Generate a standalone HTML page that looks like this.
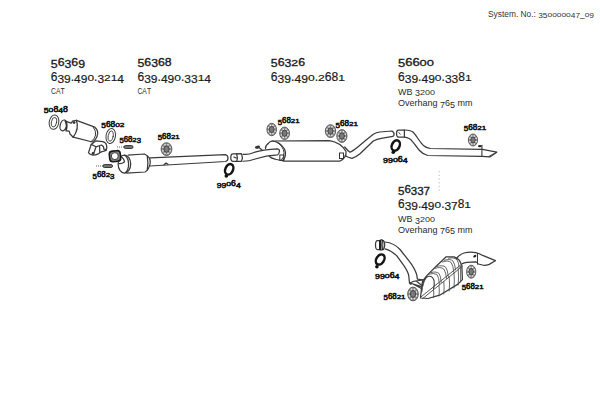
<!DOCTYPE html>
<html><head><meta charset="utf-8">
<style>
html,body{margin:0;padding:0;background:#fff;width:600px;height:400px;overflow:hidden}
svg{display:block}
text{font-family:"Liberation Sans",sans-serif;fill:#1a1a1a}
.l{stroke:#111;stroke-width:0.6}
.s{fill:#2a2a2a}
.sys{font-size:8.5px;fill:#333}
.b{font-weight:normal;font-size:12px;stroke:#1a1a1a;stroke-width:0.35}
.r{font-size:12px;stroke:#1a1a1a;stroke-width:0.2}
.s{font-size:9.5px}
.l{font-size:8.6px}
.p{fill:none;stroke:#3a3a3a;stroke-width:1.25;stroke-linejoin:round;stroke-linecap:round}
.f{fill:#fff;stroke:#3a3a3a;stroke-width:1.25;stroke-linejoin:round}
.d{fill:#333}
.clp ellipse{fill:none;stroke:#151515;stroke-width:2.5}
</style></head><body>
<svg width="600" height="400" viewBox="0 0 600 400">
<!-- header -->
<text class="sys" style="font-size:8.3px" transform="matrix(1.0076,0,0,1.000,488.00,16.70)">S</text>
<text class="sys" style="font-size:8.3px" transform="matrix(1.0076,0,0,1.000,493.58,16.70)">y</text>
<text class="sys" style="font-size:8.3px" transform="matrix(1.0076,0,0,1.000,497.76,16.70)">s</text>
<text class="sys" style="font-size:8.3px" transform="matrix(1.0076,0,0,1.000,501.94,16.70)">t</text>
<text class="sys" style="font-size:8.3px" transform="matrix(1.0076,0,0,1.000,504.26,16.70)">e</text>
<text class="sys" style="font-size:8.3px" transform="matrix(1.0076,0,0,1.000,508.91,16.70)">m</text>
<text class="sys" style="font-size:8.3px" transform="matrix(1.0076,0,0,1.000,515.88,16.70)">.</text>
<text class="sys" style="font-size:8.3px" transform="matrix(1.0076,0,0,1.000,520.53,16.70)">N</text>
<text class="sys" style="font-size:8.3px" transform="matrix(1.0076,0,0,1.000,526.57,16.70)">o</text>
<text class="sys" style="font-size:8.3px" transform="matrix(1.0076,0,0,1.000,531.22,16.70)">.</text>
<text class="sys" style="font-size:8.3px" transform="matrix(1.0076,0,0,1.000,533.54,16.70)">:</text>
<text class="sys" style="font-size:8.3px" transform="matrix(1.0076,0,0,0.950,538.19,18.07)">3</text>
<text class="sys" style="font-size:8.3px" transform="matrix(1.0076,0,0,0.950,542.84,18.07)">5</text>
<text class="sys" style="font-size:8.3px" transform="matrix(1.0076,0,0,0.720,547.49,16.70)">0</text>
<text class="sys" style="font-size:8.3px" transform="matrix(1.0076,0,0,0.720,552.14,16.70)">0</text>
<text class="sys" style="font-size:8.3px" transform="matrix(1.0076,0,0,0.720,556.79,16.70)">0</text>
<text class="sys" style="font-size:8.3px" transform="matrix(1.0076,0,0,0.720,561.44,16.70)">0</text>
<text class="sys" style="font-size:8.3px" transform="matrix(1.0076,0,0,0.720,566.09,16.70)">0</text>
<text class="sys" style="font-size:8.3px" transform="matrix(1.0076,0,0,0.950,570.75,18.07)">4</text>
<text class="sys" style="font-size:8.3px" transform="matrix(1.0076,0,0,0.950,575.40,18.07)">7</text>
<text class="sys" style="font-size:8.3px" transform="matrix(1.0076,0,0,1.000,580.05,16.70)">_</text>
<text class="sys" style="font-size:8.3px" transform="matrix(1.0076,0,0,0.720,584.70,16.70)">0</text>
<text class="sys" style="font-size:8.3px" transform="matrix(1.0076,0,0,0.950,589.35,18.07)">9</text>
<text class="b" style="font-size:11.4px" transform="matrix(1.0788,0,0,0.950,50.80,67.69)">5</text>
<text class="b" style="font-size:11.4px" transform="matrix(1.0788,0,0,1.000,57.64,65.80)">6</text>
<text class="b" style="font-size:11.4px" transform="matrix(1.0788,0,0,0.950,64.48,67.69)">3</text>
<text class="b" style="font-size:11.4px" transform="matrix(1.0788,0,0,1.000,71.32,65.80)">6</text>
<text class="b" style="font-size:11.4px" transform="matrix(1.0788,0,0,0.950,78.16,67.69)">9</text>
<text class="r" style="font-size:12.2px" transform="matrix(0.9808,0,0,1.000,50.80,80.60)">6</text>
<text class="r" style="font-size:12.2px" transform="matrix(0.9808,0,0,0.950,57.46,82.62)">3</text>
<text class="r" style="font-size:12.2px" transform="matrix(0.9808,0,0,0.950,64.11,82.62)">9</text>
<text class="r" style="font-size:12.2px" transform="matrix(0.9808,0,0,1.000,70.77,80.60)">.</text>
<text class="r" style="font-size:12.2px" transform="matrix(0.9808,0,0,0.950,74.09,82.62)">4</text>
<text class="r" style="font-size:12.2px" transform="matrix(0.9808,0,0,0.950,80.74,82.62)">9</text>
<text class="r" style="font-size:12.2px" transform="matrix(0.9808,0,0,0.720,87.40,80.60)">0</text>
<text class="r" style="font-size:12.2px" transform="matrix(0.9808,0,0,1.000,94.06,80.60)">.</text>
<text class="r" style="font-size:12.2px" transform="matrix(0.9808,0,0,0.950,97.38,82.62)">3</text>
<text class="r" style="font-size:12.2px" transform="matrix(0.9808,0,0,0.720,104.03,80.60)">2</text>
<text class="r" style="font-size:12.2px" transform="matrix(0.9808,0,0,0.720,110.69,80.60)">1</text>
<text class="r" style="font-size:12.2px" transform="matrix(0.9808,0,0,0.950,117.34,82.62)">4</text>
<text class="s" style="font-size:9.5px" transform="matrix(0.7210,0,0,1.000,51.00,94.00)">C</text>
<text class="s" style="font-size:9.5px" transform="matrix(0.7210,0,0,1.000,55.95,94.00)">A</text>
<text class="s" style="font-size:9.5px" transform="matrix(0.7210,0,0,1.000,60.52,94.00)">T</text>
<text class="b" style="font-size:11.4px" transform="matrix(1.0788,0,0,0.950,137.50,67.49)">5</text>
<text class="b" style="font-size:11.4px" transform="matrix(1.0788,0,0,1.000,144.34,65.60)">6</text>
<text class="b" style="font-size:11.4px" transform="matrix(1.0788,0,0,0.950,151.18,67.49)">3</text>
<text class="b" style="font-size:11.4px" transform="matrix(1.0788,0,0,1.000,158.02,65.60)">6</text>
<text class="b" style="font-size:11.4px" transform="matrix(1.0788,0,0,1.000,164.86,65.60)">8</text>
<text class="r" style="font-size:12.2px" transform="matrix(0.9849,0,0,1.000,137.50,80.60)">6</text>
<text class="r" style="font-size:12.2px" transform="matrix(0.9849,0,0,0.950,144.18,82.62)">3</text>
<text class="r" style="font-size:12.2px" transform="matrix(0.9849,0,0,0.950,150.86,82.62)">9</text>
<text class="r" style="font-size:12.2px" transform="matrix(0.9849,0,0,1.000,157.55,80.60)">.</text>
<text class="r" style="font-size:12.2px" transform="matrix(0.9849,0,0,0.950,160.89,82.62)">4</text>
<text class="r" style="font-size:12.2px" transform="matrix(0.9849,0,0,0.950,167.57,82.62)">9</text>
<text class="r" style="font-size:12.2px" transform="matrix(0.9849,0,0,0.720,174.25,80.60)">0</text>
<text class="r" style="font-size:12.2px" transform="matrix(0.9849,0,0,1.000,180.93,80.60)">.</text>
<text class="r" style="font-size:12.2px" transform="matrix(0.9849,0,0,0.950,184.27,82.62)">3</text>
<text class="r" style="font-size:12.2px" transform="matrix(0.9849,0,0,0.950,190.95,82.62)">3</text>
<text class="r" style="font-size:12.2px" transform="matrix(0.9849,0,0,0.720,197.64,80.60)">1</text>
<text class="r" style="font-size:12.2px" transform="matrix(0.9849,0,0,0.950,204.32,82.62)">4</text>
<text class="s" style="font-size:9.5px" transform="matrix(0.7105,0,0,1.000,137.50,94.30)">C</text>
<text class="s" style="font-size:9.5px" transform="matrix(0.7105,0,0,1.000,142.37,94.30)">A</text>
<text class="s" style="font-size:9.5px" transform="matrix(0.7105,0,0,1.000,146.88,94.30)">T</text>
<text class="b" style="font-size:11.4px" transform="matrix(1.0788,0,0,0.950,270.80,67.49)">5</text>
<text class="b" style="font-size:11.4px" transform="matrix(1.0788,0,0,1.000,277.64,65.60)">6</text>
<text class="b" style="font-size:11.4px" transform="matrix(1.0788,0,0,0.950,284.48,67.49)">3</text>
<text class="b" style="font-size:11.4px" transform="matrix(1.0788,0,0,0.720,291.32,65.60)">2</text>
<text class="b" style="font-size:11.4px" transform="matrix(1.0788,0,0,1.000,298.16,65.60)">6</text>
<text class="r" style="font-size:12.2px" transform="matrix(0.9942,0,0,1.000,270.80,80.90)">6</text>
<text class="r" style="font-size:12.2px" transform="matrix(0.9942,0,0,0.950,277.55,82.92)">3</text>
<text class="r" style="font-size:12.2px" transform="matrix(0.9942,0,0,0.950,284.29,82.92)">9</text>
<text class="r" style="font-size:12.2px" transform="matrix(0.9942,0,0,1.000,291.04,80.90)">.</text>
<text class="r" style="font-size:12.2px" transform="matrix(0.9942,0,0,0.950,294.41,82.92)">4</text>
<text class="r" style="font-size:12.2px" transform="matrix(0.9942,0,0,0.950,301.15,82.92)">9</text>
<text class="r" style="font-size:12.2px" transform="matrix(0.9942,0,0,0.720,307.90,80.90)">0</text>
<text class="r" style="font-size:12.2px" transform="matrix(0.9942,0,0,1.000,314.65,80.90)">.</text>
<text class="r" style="font-size:12.2px" transform="matrix(0.9942,0,0,0.720,318.02,80.90)">2</text>
<text class="r" style="font-size:12.2px" transform="matrix(0.9942,0,0,1.000,324.76,80.90)">6</text>
<text class="r" style="font-size:12.2px" transform="matrix(0.9942,0,0,1.000,331.51,80.90)">8</text>
<text class="r" style="font-size:12.2px" transform="matrix(0.9942,0,0,0.720,338.25,80.90)">1</text>
<text class="b" style="font-size:11.4px" transform="matrix(1.1356,0,0,0.950,398.00,67.49)">5</text>
<text class="b" style="font-size:11.4px" transform="matrix(1.1356,0,0,1.000,405.20,65.60)">6</text>
<text class="b" style="font-size:11.4px" transform="matrix(1.1356,0,0,1.000,412.40,65.60)">6</text>
<text class="b" style="font-size:11.4px" transform="matrix(1.1356,0,0,0.720,419.60,65.60)">0</text>
<text class="b" style="font-size:11.4px" transform="matrix(1.1356,0,0,0.720,426.80,65.60)">0</text>
<text class="r" style="font-size:12.2px" transform="matrix(0.9875,0,0,1.000,398.00,80.60)">6</text>
<text class="r" style="font-size:12.2px" transform="matrix(0.9875,0,0,0.950,404.70,82.62)">3</text>
<text class="r" style="font-size:12.2px" transform="matrix(0.9875,0,0,0.950,411.40,82.62)">9</text>
<text class="r" style="font-size:12.2px" transform="matrix(0.9875,0,0,1.000,418.10,80.60)">.</text>
<text class="r" style="font-size:12.2px" transform="matrix(0.9875,0,0,0.950,421.45,82.62)">4</text>
<text class="r" style="font-size:12.2px" transform="matrix(0.9875,0,0,0.950,428.15,82.62)">9</text>
<text class="r" style="font-size:12.2px" transform="matrix(0.9875,0,0,0.720,434.85,80.60)">0</text>
<text class="r" style="font-size:12.2px" transform="matrix(0.9875,0,0,1.000,441.55,80.60)">.</text>
<text class="r" style="font-size:12.2px" transform="matrix(0.9875,0,0,0.950,444.90,82.62)">3</text>
<text class="r" style="font-size:12.2px" transform="matrix(0.9875,0,0,0.950,451.60,82.62)">3</text>
<text class="r" style="font-size:12.2px" transform="matrix(0.9875,0,0,1.000,458.30,80.60)">8</text>
<text class="r" style="font-size:12.2px" transform="matrix(0.9875,0,0,0.720,465.00,80.60)">1</text>
<text class="s" style="font-size:9px" transform="matrix(0.9995,0,0,1.000,398.00,94.80)">W</text>
<text class="s" style="font-size:9px" transform="matrix(0.9995,0,0,1.000,406.49,94.80)">B</text>
<text class="s" style="font-size:9px" transform="matrix(0.9995,0,0,0.950,414.99,96.29)">3</text>
<text class="s" style="font-size:9px" transform="matrix(0.9995,0,0,0.720,419.99,94.80)">2</text>
<text class="s" style="font-size:9px" transform="matrix(0.9995,0,0,0.720,424.99,94.80)">0</text>
<text class="s" style="font-size:9px" transform="matrix(0.9995,0,0,0.720,430.00,94.80)">0</text>
<text class="s" style="font-size:9.5px" transform="matrix(0.9469,0,0,1.000,398.00,106.20)">O</text>
<text class="s" style="font-size:9.5px" transform="matrix(0.9469,0,0,1.000,405.00,106.20)">v</text>
<text class="s" style="font-size:9.5px" transform="matrix(0.9469,0,0,1.000,409.49,106.20)">e</text>
<text class="s" style="font-size:9.5px" transform="matrix(0.9469,0,0,1.000,414.50,106.20)">r</text>
<text class="s" style="font-size:9.5px" transform="matrix(0.9469,0,0,1.000,417.49,106.20)">h</text>
<text class="s" style="font-size:9.5px" transform="matrix(0.9469,0,0,1.000,422.50,106.20)">a</text>
<text class="s" style="font-size:9.5px" transform="matrix(0.9469,0,0,1.000,427.50,106.20)">n</text>
<text class="s" style="font-size:9.5px" transform="matrix(0.9469,0,0,1.000,432.50,106.20)">g</text>
<text class="s" style="font-size:9.5px" transform="matrix(0.9469,0,0,0.950,440.00,107.77)">7</text>
<text class="s" style="font-size:9.5px" transform="matrix(0.9469,0,0,1.000,445.01,106.20)">6</text>
<text class="s" style="font-size:9.5px" transform="matrix(0.9469,0,0,0.950,450.01,107.77)">5</text>
<text class="s" style="font-size:9.5px" transform="matrix(0.9469,0,0,1.000,457.51,106.20)">m</text>
<text class="s" style="font-size:9.5px" transform="matrix(0.9469,0,0,1.000,465.01,106.20)">m</text>
<text class="b" style="font-size:11.2px" transform="matrix(1.0275,0,0,0.950,398.00,195.25)">5</text>
<text class="b" style="font-size:11.2px" transform="matrix(1.0275,0,0,1.000,404.40,193.40)">6</text>
<text class="b" style="font-size:11.2px" transform="matrix(1.0275,0,0,0.950,410.80,195.25)">3</text>
<text class="b" style="font-size:11.2px" transform="matrix(1.0275,0,0,0.950,417.20,195.25)">3</text>
<text class="b" style="font-size:11.2px" transform="matrix(1.0275,0,0,0.950,423.60,195.25)">7</text>
<text class="r" style="font-size:12.0px" transform="matrix(0.9945,0,0,1.000,398.00,207.80)">6</text>
<text class="r" style="font-size:12.0px" transform="matrix(0.9945,0,0,0.950,404.64,209.79)">3</text>
<text class="r" style="font-size:12.0px" transform="matrix(0.9945,0,0,0.950,411.27,209.79)">9</text>
<text class="r" style="font-size:12.0px" transform="matrix(0.9945,0,0,1.000,417.91,207.80)">.</text>
<text class="r" style="font-size:12.0px" transform="matrix(0.9945,0,0,0.950,421.23,209.79)">4</text>
<text class="r" style="font-size:12.0px" transform="matrix(0.9945,0,0,0.950,427.86,209.79)">9</text>
<text class="r" style="font-size:12.0px" transform="matrix(0.9945,0,0,0.720,434.50,207.80)">0</text>
<text class="r" style="font-size:12.0px" transform="matrix(0.9945,0,0,1.000,441.14,207.80)">.</text>
<text class="r" style="font-size:12.0px" transform="matrix(0.9945,0,0,0.950,444.45,209.79)">3</text>
<text class="r" style="font-size:12.0px" transform="matrix(0.9945,0,0,0.950,451.09,209.79)">7</text>
<text class="r" style="font-size:12.0px" transform="matrix(0.9945,0,0,1.000,457.73,207.80)">8</text>
<text class="r" style="font-size:12.0px" transform="matrix(0.9945,0,0,0.720,464.36,207.80)">1</text>
<text class="s" style="font-size:9px" transform="matrix(0.9995,0,0,1.000,398.00,222.30)">W</text>
<text class="s" style="font-size:9px" transform="matrix(0.9995,0,0,1.000,406.49,222.30)">B</text>
<text class="s" style="font-size:9px" transform="matrix(0.9995,0,0,0.950,414.99,223.79)">3</text>
<text class="s" style="font-size:9px" transform="matrix(0.9995,0,0,0.720,419.99,222.30)">2</text>
<text class="s" style="font-size:9px" transform="matrix(0.9995,0,0,0.720,424.99,222.30)">0</text>
<text class="s" style="font-size:9px" transform="matrix(0.9995,0,0,0.720,430.00,222.30)">0</text>
<text class="s" style="font-size:9.5px" transform="matrix(0.9469,0,0,1.000,398.00,232.80)">O</text>
<text class="s" style="font-size:9.5px" transform="matrix(0.9469,0,0,1.000,405.00,232.80)">v</text>
<text class="s" style="font-size:9.5px" transform="matrix(0.9469,0,0,1.000,409.49,232.80)">e</text>
<text class="s" style="font-size:9.5px" transform="matrix(0.9469,0,0,1.000,414.50,232.80)">r</text>
<text class="s" style="font-size:9.5px" transform="matrix(0.9469,0,0,1.000,417.49,232.80)">h</text>
<text class="s" style="font-size:9.5px" transform="matrix(0.9469,0,0,1.000,422.50,232.80)">a</text>
<text class="s" style="font-size:9.5px" transform="matrix(0.9469,0,0,1.000,427.50,232.80)">n</text>
<text class="s" style="font-size:9.5px" transform="matrix(0.9469,0,0,1.000,432.50,232.80)">g</text>
<text class="s" style="font-size:9.5px" transform="matrix(0.9469,0,0,0.950,440.00,234.37)">7</text>
<text class="s" style="font-size:9.5px" transform="matrix(0.9469,0,0,1.000,445.01,232.80)">6</text>
<text class="s" style="font-size:9.5px" transform="matrix(0.9469,0,0,0.950,450.01,234.37)">5</text>
<text class="s" style="font-size:9.5px" transform="matrix(0.9469,0,0,1.000,457.51,232.80)">m</text>
<text class="s" style="font-size:9.5px" transform="matrix(0.9469,0,0,1.000,465.01,232.80)">m</text>
<text class="l" style="font-size:8.3px" transform="matrix(1.0485,0,0,0.950,43.75,113.27)">5</text>
<text class="l" style="font-size:8.3px" transform="matrix(1.0485,0,0,0.720,48.59,111.90)">0</text>
<text class="l" style="font-size:8.3px" transform="matrix(1.0485,0,0,1.000,53.43,111.90)">8</text>
<text class="l" style="font-size:8.3px" transform="matrix(1.0485,0,0,0.950,58.27,113.27)">4</text>
<text class="l" style="font-size:8.3px" transform="matrix(1.0485,0,0,1.000,63.11,111.90)">8</text>
<text class="l" style="font-size:8.3px" transform="matrix(1.0052,0,0,0.950,101.25,127.87)">5</text>
<text class="l" style="font-size:8.3px" transform="matrix(1.0052,0,0,1.000,105.89,126.50)">6</text>
<text class="l" style="font-size:8.3px" transform="matrix(1.0052,0,0,1.000,110.53,126.50)">8</text>
<text class="l" style="font-size:8.3px" transform="matrix(1.0052,0,0,0.720,115.17,126.50)">0</text>
<text class="l" style="font-size:8.3px" transform="matrix(1.0052,0,0,0.720,119.81,126.50)">2</text>
<text class="l" style="font-size:8.3px" transform="matrix(0.9359,0,0,0.950,119.40,142.87)">5</text>
<text class="l" style="font-size:8.3px" transform="matrix(0.9359,0,0,1.000,123.72,141.50)">6</text>
<text class="l" style="font-size:8.3px" transform="matrix(0.9359,0,0,1.000,128.04,141.50)">8</text>
<text class="l" style="font-size:8.3px" transform="matrix(0.9359,0,0,0.720,132.36,141.50)">2</text>
<text class="l" style="font-size:8.3px" transform="matrix(0.9359,0,0,0.950,136.68,142.87)">3</text>
<text class="l" style="font-size:8.3px" transform="matrix(0.9489,0,0,0.950,92.50,178.62)">5</text>
<text class="l" style="font-size:8.3px" transform="matrix(0.9489,0,0,1.000,96.88,177.25)">6</text>
<text class="l" style="font-size:8.3px" transform="matrix(0.9489,0,0,1.000,101.26,177.25)">8</text>
<text class="l" style="font-size:8.3px" transform="matrix(0.9489,0,0,0.720,105.64,177.25)">2</text>
<text class="l" style="font-size:8.3px" transform="matrix(0.9489,0,0,0.950,110.02,178.62)">3</text>
<text class="l" style="font-size:8.3px" transform="matrix(0.9532,0,0,0.950,157.70,140.32)">5</text>
<text class="l" style="font-size:8.3px" transform="matrix(0.9532,0,0,1.000,162.10,138.95)">6</text>
<text class="l" style="font-size:8.3px" transform="matrix(0.9532,0,0,1.000,166.50,138.95)">8</text>
<text class="l" style="font-size:8.3px" transform="matrix(0.9532,0,0,0.720,170.90,138.95)">2</text>
<text class="l" style="font-size:8.3px" transform="matrix(0.9532,0,0,0.720,175.30,138.95)">1</text>
<text class="l" style="font-size:8.3px" transform="matrix(1.0398,0,0,0.950,216.70,187.72)">9</text>
<text class="l" style="font-size:8.3px" transform="matrix(1.0398,0,0,0.950,221.50,187.72)">9</text>
<text class="l" style="font-size:8.3px" transform="matrix(1.0398,0,0,0.720,226.30,186.35)">0</text>
<text class="l" style="font-size:8.3px" transform="matrix(1.0398,0,0,1.000,231.10,186.35)">6</text>
<text class="l" style="font-size:8.3px" transform="matrix(1.0398,0,0,0.950,235.90,187.72)">4</text>
<text class="l" style="font-size:8.3px" transform="matrix(0.9445,0,0,0.950,277.70,124.77)">5</text>
<text class="l" style="font-size:8.3px" transform="matrix(0.9445,0,0,1.000,282.06,123.40)">6</text>
<text class="l" style="font-size:8.3px" transform="matrix(0.9445,0,0,1.000,286.42,123.40)">8</text>
<text class="l" style="font-size:8.3px" transform="matrix(0.9445,0,0,0.720,290.78,123.40)">2</text>
<text class="l" style="font-size:8.3px" transform="matrix(0.9445,0,0,0.720,295.14,123.40)">1</text>
<text class="l" style="font-size:8.3px" transform="matrix(0.9748,0,0,0.950,335.50,127.72)">5</text>
<text class="l" style="font-size:8.3px" transform="matrix(0.9748,0,0,1.000,340.00,126.35)">6</text>
<text class="l" style="font-size:8.3px" transform="matrix(0.9748,0,0,1.000,344.50,126.35)">8</text>
<text class="l" style="font-size:8.3px" transform="matrix(0.9748,0,0,0.720,349.00,126.35)">2</text>
<text class="l" style="font-size:8.3px" transform="matrix(0.9748,0,0,0.720,353.50,126.35)">1</text>
<text class="l" style="font-size:8.3px" transform="matrix(1.0702,0,0,0.950,383.00,163.32)">9</text>
<text class="l" style="font-size:8.3px" transform="matrix(1.0702,0,0,0.950,387.94,163.32)">9</text>
<text class="l" style="font-size:8.3px" transform="matrix(1.0702,0,0,0.720,392.88,161.95)">0</text>
<text class="l" style="font-size:8.3px" transform="matrix(1.0702,0,0,1.000,397.82,161.95)">6</text>
<text class="l" style="font-size:8.3px" transform="matrix(1.0702,0,0,0.950,402.76,163.32)">4</text>
<text class="l" style="font-size:8.3px" transform="matrix(0.9748,0,0,0.950,463.75,131.07)">5</text>
<text class="l" style="font-size:8.3px" transform="matrix(0.9748,0,0,1.000,468.25,129.70)">6</text>
<text class="l" style="font-size:8.3px" transform="matrix(0.9748,0,0,1.000,472.75,129.70)">8</text>
<text class="l" style="font-size:8.3px" transform="matrix(0.9748,0,0,0.720,477.25,129.70)">2</text>
<text class="l" style="font-size:8.3px" transform="matrix(0.9748,0,0,0.720,481.75,129.70)">1</text>
<text class="l" style="font-size:8.3px" transform="matrix(1.0615,0,0,0.950,375.00,279.12)">9</text>
<text class="l" style="font-size:8.3px" transform="matrix(1.0615,0,0,0.950,379.90,279.12)">9</text>
<text class="l" style="font-size:8.3px" transform="matrix(1.0615,0,0,0.720,384.80,277.75)">0</text>
<text class="l" style="font-size:8.3px" transform="matrix(1.0615,0,0,1.000,389.70,277.75)">6</text>
<text class="l" style="font-size:8.3px" transform="matrix(1.0615,0,0,0.950,394.60,279.12)">4</text>
<text class="l" style="font-size:8.3px" transform="matrix(0.9532,0,0,0.950,383.50,300.12)">5</text>
<text class="l" style="font-size:8.3px" transform="matrix(0.9532,0,0,1.000,387.90,298.75)">6</text>
<text class="l" style="font-size:8.3px" transform="matrix(0.9532,0,0,1.000,392.30,298.75)">8</text>
<text class="l" style="font-size:8.3px" transform="matrix(0.9532,0,0,0.720,396.70,298.75)">2</text>
<text class="l" style="font-size:8.3px" transform="matrix(0.9532,0,0,0.720,401.10,298.75)">1</text>
<text class="l" style="font-size:8.3px" transform="matrix(0.9445,0,0,0.950,461.70,290.17)">5</text>
<text class="l" style="font-size:8.3px" transform="matrix(0.9445,0,0,1.000,466.06,288.80)">6</text>
<text class="l" style="font-size:8.3px" transform="matrix(0.9445,0,0,1.000,470.42,288.80)">8</text>
<text class="l" style="font-size:8.3px" transform="matrix(0.9445,0,0,0.720,474.78,288.80)">2</text>
<text class="l" style="font-size:8.3px" transform="matrix(0.9445,0,0,0.720,479.14,288.80)">1</text>
<!-- DRAWINGS -->
<g id="draw">
<!-- ring 50848 -->
<g transform="rotate(10 54 122.2)">
<ellipse class="p" cx="54" cy="122.2" rx="4.8" ry="7.2" style="stroke-width:1"/>
<ellipse class="p" cx="54" cy="122.2" rx="2.6" ry="4.8" style="stroke-width:0.9"/>
</g>
<!-- converter 1 -->
<ellipse class="f" cx="63.4" cy="125.4" rx="3.2" ry="5.5" transform="rotate(15 63.4 125.4)"/>
<path d="M65.2,120.8 Q67.8,125.5 65.9,130.6" fill="none" stroke="#333" stroke-width="1.7"/>
<path class="p" d="M66.8,121.6 L71.2,123.2 L72.4,121.2 L76.4,120.4 M66,130.8 L69.2,131.2 L70,134 L73.2,137.2"/>
<path class="p" d="M76.4,120.4 L94.8,127.2 Q98.3,130.5 97.6,134 Q97,139 92.4,142 L73.2,137.2"/>
<path class="p" d="M76.4,120.4 Q79.5,128 73.2,137.2"/>
<path class="p" d="M93.4,127.4 Q96.3,131.2 95.6,135 Q95,139 91,141.7" style="stroke-width:1"/>
<circle class="d" cx="74" cy="122.6" r="1.4"/>
<!-- elbow -->
<path class="f" d="M88.5,152.8 L91.2,144.4 L96,140.8 L102.6,141.7 Q106,142.5 106.5,145 L106.8,148 Q106.5,151 102,151.6 L99.6,152.8 Q98,154.6 93,155.2 Q89.5,154.5 88.5,152.8 Z"/>
<path class="p" d="M91.2,144.4 L96,146.8 L101.4,145 Q104,146 104,149.5 M96,146.8 L93.6,154 M99.6,146 L99.8,152.6"/>
<circle class="d" cx="93" cy="153.4" r="1.3"/>
<circle class="d" cx="105.6" cy="150" r="1.2"/>
<!-- ring 56802 -->
<g transform="rotate(10 110.75 136)">
<ellipse class="p" cx="110.75" cy="136" rx="4.7" ry="7.5" style="stroke-width:1"/>
<ellipse class="p" cx="110.75" cy="136" rx="2.5" ry="5.2" style="stroke-width:0.9"/>
</g>
<!-- bolt upper -->
<path d="M117,147 L124,147" stroke="#b0b0b0" stroke-width="2.2" stroke-dasharray="1,1"/>
<rect x="124" y="145.6" width="9" height="2.9" rx="1.4" fill="#777" stroke="#2a2a2a" stroke-width="0.9"/>
<!-- bolt lower -->
<path d="M96,166 L103,166" stroke="#b0b0b0" stroke-width="2.2" stroke-dasharray="1,1"/>
<rect x="103" y="164.6" width="9.5" height="2.9" rx="1.4" fill="#777" stroke="#2a2a2a" stroke-width="0.9"/>
<!-- converter 2 -->
<path class="f" d="M127.7,155.1 L144.3,154 Q151,157 150.2,163 Q149,170 145,172 L126.3,173.1"/>
<ellipse class="f" cx="124.4" cy="164" rx="6.3" ry="9"/>
<path class="p" d="M124.8,155.2 Q128.6,158 128.6,164 Q128.6,170.5 125.2,172.8"/>
<path class="p" d="M120.2,155.8 Q124.5,159 124.4,162 Q122,164 118.8,163.6"/>
<path class="p" d="M147.3,156.3 Q148.5,163 147.3,169.8"/>
<!-- gasket 56823 -->
<rect x="109.5" y="150.9" width="11" height="10.6" rx="3.2" fill="#888" stroke="#1a1a1a" stroke-width="1.6" transform="rotate(-6 115 156.2)"/>
<circle cx="114.8" cy="156.1" r="3.5" fill="#fff" stroke="#2a2a2a" stroke-width="0.9"/>
<!-- pipe 1 -->
<path class="p" d="M150.2,157.8 L225.5,154.6 Q228,155.5 228,158 Q228,160.8 225.5,161.5 L150,166"/>
<path class="p" d="M164,164.7 L166,163 L168,164.3"/>
<!-- connector -->
<path class="f" d="M233,153.8 L241.5,153.7 Q243.2,157.5 241.5,161.3 L233,161.3 Q230.8,161.3 230.8,157.5 Q230.8,153.8 233,153.8 Z"/>
<path class="p" d="M236.7,154 Q238,157.5 236.7,161.2 M234,157 L236,158"/>
<!-- pipe 2 -->
<path class="p" d="M243,154.3 Q248,155 254,152.5 Q263,149.6 277.5,148.8 Q280,149.5 279.3,151.8 Q279,154.5 277.5,154.8 Q266,155.4 255.3,159 Q249,161.2 243,161.25"/>
<ellipse cx="257.5" cy="147.2" rx="2.6" ry="1.5" fill="#333" transform="rotate(-15 257.5 147.2)"/><path class="p" d="M259.5,148 L262,150"/>
<!-- muffler 1 -->
<path class="p" d="M272,141 L329.3,140.6 C337,141.8 343,146 346,151.5 C346.5,155.5 344,159 340,161 L283,161.1"/>
<path class="p" d="M268.2,143.5 Q270,141 272,141 Q280,141.5 284.5,149 Q287,155 283.3,160.3 Q278,160 276.3,159.5 Q270,158 269.3,156"/>
<path class="p" d="M268.2,143.5 Q265,146 265.5,148.5"/>
<path class="p" d="M277,142.3 Q283.5,146.5 284,152.5 Q284.3,157.5 281.5,160" style="stroke-width:1"/>
<rect x="279.8" y="155" width="4" height="5.5" fill="none" stroke="#333" stroke-width="1"/>
<rect x="339.5" y="153" width="4" height="5.5" fill="none" stroke="#333" stroke-width="1"/>
<!-- pipe 3 -->
<path class="p" d="M344.7,147 Q348,151 350,152.3 Q353,151 358.7,146.3 Q366,140 373.3,134.3 Q376,132.5 380,132 L392,131 Q394.5,132.5 394,135 Q393.5,136.5 392.7,136.3 L381.3,138.3 Q377,139 373.3,141 L360,153.7 Q356,157 352,158.3 Q348,157.5 345.3,155.7"/>
<!-- connector 2 -->
<path class="f" d="M398.5,130 L404.4,130 L404.4,137.1 L398.5,137.1 Q396.5,137 396.5,133.5 Q396.5,130 398.5,130 Z"/>
<path class="p" d="M399,132.6 L400.2,134.2" style="stroke-width:1"/>
<!-- tailpipe -->
<path class="p" d="M404.4,130 C408,130.2 411.5,130.5 413,132 C415.5,134.5 418,139 421.5,143.4 C423.5,146 426,148 430.5,148.5 L482.5,149.4 L496.8,152.2 L489.8,156.9 L482,156.4 L427.8,155.5 C424,154.5 421.5,152.8 419.5,150.5 C417,148 414.5,143.5 412.5,141.6 C411,139.5 409,137.5 404.4,137.1"/>
<path class="p" d="M481.9,145.3 L481.9,156.5" style="stroke-width:1.1"/>
<path class="p" d="M494.5,153.3 L488.5,156.6" style="stroke-width:0.9"/>
<ellipse cx="479.8" cy="146.2" rx="1.8" ry="1.1" fill="#222"/>
<!-- mounts 56821 -->
<g class="mnt">
<ellipse cx="166.5" cy="149.1" rx="5.4" ry="6.4" fill="#8e8e8e" stroke="#505050" stroke-width="0.9"/>
<ellipse cx="166.5" cy="149.1" rx="2.70" ry="3.20" fill="#7a7a7a" stroke="#333" stroke-width="0.8"/>
<circle cx="170.09" cy="150.86" r="0.8" fill="#eee"/>
<circle cx="167.99" cy="153.36" r="0.8" fill="#eee"/>
<circle cx="165.01" cy="153.36" r="0.8" fill="#eee"/>
<circle cx="162.91" cy="150.86" r="0.8" fill="#eee"/>
<circle cx="162.91" cy="147.34" r="0.8" fill="#eee"/>
<circle cx="165.01" cy="144.84" r="0.8" fill="#eee"/>
<circle cx="167.99" cy="144.84" r="0.8" fill="#eee"/>
<circle cx="170.09" cy="147.34" r="0.8" fill="#eee"/>
<ellipse cx="271.7" cy="129.5" rx="4.8" ry="6.2" fill="#8e8e8e" stroke="#505050" stroke-width="0.9"/>
<ellipse cx="271.7" cy="129.5" rx="2.40" ry="3.10" fill="#7a7a7a" stroke="#333" stroke-width="0.8"/>
<circle cx="274.89" cy="131.21" r="0.8" fill="#eee"/>
<circle cx="273.02" cy="133.62" r="0.8" fill="#eee"/>
<circle cx="270.38" cy="133.62" r="0.8" fill="#eee"/>
<circle cx="268.51" cy="131.21" r="0.8" fill="#eee"/>
<circle cx="268.51" cy="127.79" r="0.8" fill="#eee"/>
<circle cx="270.38" cy="125.38" r="0.8" fill="#eee"/>
<circle cx="273.02" cy="125.38" r="0.8" fill="#eee"/>
<circle cx="274.89" cy="127.79" r="0.8" fill="#eee"/>
<ellipse cx="284.6" cy="133.3" rx="4.9" ry="6.2" fill="#8e8e8e" stroke="#505050" stroke-width="0.9"/>
<ellipse cx="284.6" cy="133.3" rx="2.45" ry="3.10" fill="#7a7a7a" stroke="#333" stroke-width="0.8"/>
<circle cx="287.86" cy="135.01" r="0.8" fill="#eee"/>
<circle cx="285.95" cy="137.42" r="0.8" fill="#eee"/>
<circle cx="283.25" cy="137.42" r="0.8" fill="#eee"/>
<circle cx="281.34" cy="135.01" r="0.8" fill="#eee"/>
<circle cx="281.34" cy="131.59" r="0.8" fill="#eee"/>
<circle cx="283.25" cy="129.18" r="0.8" fill="#eee"/>
<circle cx="285.95" cy="129.18" r="0.8" fill="#eee"/>
<circle cx="287.86" cy="131.59" r="0.8" fill="#eee"/>
<ellipse cx="330.5" cy="131.1" rx="5.2" ry="6.4" fill="#8e8e8e" stroke="#505050" stroke-width="0.9"/>
<ellipse cx="330.5" cy="131.1" rx="2.60" ry="3.20" fill="#7a7a7a" stroke="#333" stroke-width="0.8"/>
<circle cx="333.96" cy="132.86" r="0.8" fill="#eee"/>
<circle cx="331.93" cy="135.36" r="0.8" fill="#eee"/>
<circle cx="329.07" cy="135.36" r="0.8" fill="#eee"/>
<circle cx="327.04" cy="132.86" r="0.8" fill="#eee"/>
<circle cx="327.04" cy="129.34" r="0.8" fill="#eee"/>
<circle cx="329.07" cy="126.84" r="0.8" fill="#eee"/>
<circle cx="331.93" cy="126.84" r="0.8" fill="#eee"/>
<circle cx="333.96" cy="129.34" r="0.8" fill="#eee"/>
<ellipse cx="341.9" cy="136" rx="5.1" ry="6.4" fill="#8e8e8e" stroke="#505050" stroke-width="0.9"/>
<ellipse cx="341.9" cy="136" rx="2.55" ry="3.20" fill="#7a7a7a" stroke="#333" stroke-width="0.8"/>
<circle cx="345.29" cy="137.76" r="0.8" fill="#eee"/>
<circle cx="343.31" cy="140.26" r="0.8" fill="#eee"/>
<circle cx="340.49" cy="140.26" r="0.8" fill="#eee"/>
<circle cx="338.51" cy="137.76" r="0.8" fill="#eee"/>
<circle cx="338.51" cy="134.24" r="0.8" fill="#eee"/>
<circle cx="340.49" cy="131.74" r="0.8" fill="#eee"/>
<circle cx="343.31" cy="131.74" r="0.8" fill="#eee"/>
<circle cx="345.29" cy="134.24" r="0.8" fill="#eee"/>
<ellipse cx="473" cy="140" rx="4.6" ry="6" fill="#8e8e8e" stroke="#505050" stroke-width="0.9"/>
<ellipse cx="473" cy="140" rx="2.30" ry="3.00" fill="#7a7a7a" stroke="#333" stroke-width="0.8"/>
<circle cx="476.06" cy="141.65" r="0.8" fill="#eee"/>
<circle cx="474.27" cy="143.99" r="0.8" fill="#eee"/>
<circle cx="471.73" cy="143.99" r="0.8" fill="#eee"/>
<circle cx="469.94" cy="141.65" r="0.8" fill="#eee"/>
<circle cx="469.94" cy="138.35" r="0.8" fill="#eee"/>
<circle cx="471.73" cy="136.01" r="0.8" fill="#eee"/>
<circle cx="474.27" cy="136.01" r="0.8" fill="#eee"/>
<circle cx="476.06" cy="138.35" r="0.8" fill="#eee"/>
<ellipse cx="413" cy="294" rx="5.3" ry="6.9" fill="#8e8e8e" stroke="#505050" stroke-width="0.9"/>
<ellipse cx="413" cy="294" rx="2.65" ry="3.45" fill="#7a7a7a" stroke="#333" stroke-width="0.8"/>
<circle cx="416.53" cy="295.90" r="0.8" fill="#eee"/>
<circle cx="414.46" cy="298.59" r="0.8" fill="#eee"/>
<circle cx="411.54" cy="298.59" r="0.8" fill="#eee"/>
<circle cx="409.47" cy="295.90" r="0.8" fill="#eee"/>
<circle cx="409.47" cy="292.10" r="0.8" fill="#eee"/>
<circle cx="411.54" cy="289.41" r="0.8" fill="#eee"/>
<circle cx="414.46" cy="289.41" r="0.8" fill="#eee"/>
<circle cx="416.53" cy="292.10" r="0.8" fill="#eee"/>
<ellipse cx="471.2" cy="271.7" rx="4.6" ry="6.5" fill="#8e8e8e" stroke="#505050" stroke-width="0.9"/>
<ellipse cx="471.2" cy="271.7" rx="2.30" ry="3.25" fill="#7a7a7a" stroke="#333" stroke-width="0.8"/>
<circle cx="474.26" cy="273.49" r="0.8" fill="#eee"/>
<circle cx="472.47" cy="276.02" r="0.8" fill="#eee"/>
<circle cx="469.93" cy="276.02" r="0.8" fill="#eee"/>
<circle cx="468.14" cy="273.49" r="0.8" fill="#eee"/>
<circle cx="468.14" cy="269.91" r="0.8" fill="#eee"/>
<circle cx="469.93" cy="267.38" r="0.8" fill="#eee"/>
<circle cx="472.47" cy="267.38" r="0.8" fill="#eee"/>
<circle cx="474.26" cy="269.91" r="0.8" fill="#eee"/>
</g>
<!-- clamps 99064 -->
<g class="clp">
<ellipse cx="229.2" cy="169.3" rx="3.8" ry="5.5" transform="rotate(25 229.2 169.3)"/>
<circle cx="226.3" cy="176.0" r="1.8" fill="#111"/>
<ellipse cx="395.75" cy="145.5" rx="3.8" ry="5.5" transform="rotate(25 395.75 145.5)"/>
<circle cx="393.25" cy="152.25" r="1.8" fill="#111"/>
<ellipse cx="380.2" cy="259.5" rx="3.8" ry="5.5" transform="rotate(33 380.2 259.5)"/>
<circle cx="376.9" cy="266.8" r="1.8" fill="#111"/>
</g>
<!-- dotted line -->
<path d="M439.1,171 L439.1,193" stroke="#bbb" stroke-width="1" stroke-dasharray="1.3,2.4"/>
<!-- rear pipe in -->
<path class="f" d="M377.5,240.5 L383.5,240.5 Q386,245 383.5,249.5 L377.5,249.5 Q375.5,249.5 375.5,245 Q375.5,240.5 377.5,240.5 Z"/>
<path d="M379,240.5 Q380,239.2 382,239.2 Q383.3,239.5 383.3,241 L383.3,249.5 Q382.5,250.6 380.5,250.5 Q379,250 379,249 Z" fill="#1e1e1e"/>
<path d="M381.6,240.5 Q382.6,245 381.6,249.5" stroke="#fff" stroke-width="0.7" fill="none"/>
<path class="p" d="M385,242 C390,242.5 396,245 400,249.5 L408.6,260.3 C412,264.5 415.5,270 416.8,275.2 L417.4,279.2 L424.2,280"/>
<path class="p" d="M385,248.8 C388,249.5 393,252 397.2,256.3 L403.9,265.7 C406.5,269.5 408.3,273 408.8,276 L409.5,283"/>
<circle class="d" cx="410.7" cy="283.6" r="1.2"/>
<path class="p" d="M410,283 L413.75,281.25 L423,280 M410,283 L420.6,286.3 M412.5,283.8 L421.9,288.8 M416,281 L424,287"/>
<!-- rear muffler -->
<path class="f" d="M420.5,298 L421.5,288 Q422,283 422.8,280.8 L427,275.4 L437.2,265.2 L446.2,256.8 L454,256.8 Q457.5,258 459.4,260.4 L461.8,265.2 L462.4,279.6 L457.6,284.4 L439.6,295.2 L428,298.5 Z"/>
<path class="p" d="M422.5,286 Q423.5,278 428.5,276.3 Q432.5,275.5 434,280.5 Q434.8,284 433.5,289" style="stroke-width:1.1"/>
<path class="p" d="M421.8,292 Q423,282 425.5,279" style="stroke-width:0.9"/>
<path class="p" d="M420.4,297.4 L461.8,264 M422.6,298.6 L462.2,266.4" style="stroke-width:0.9;stroke:#444"/>
<g style="stroke-width:0.85;stroke:#4a4a4a" class="p">
<path d="M428.8,274.2 Q434,272.6 437,274.5 Q439,277 439.4,284.5"/>
<path d="M431,272.6 Q436,271 439,273.5 Q441,276 441.2,282.5"/>
<path d="M435,268.4 Q440.5,266.4 443.8,269 Q446,272 446.6,278.5"/>
<path d="M437.2,266.4 Q442.5,264.6 445.8,267.3 Q447.8,270 448.3,276.5"/>
<path d="M442.4,262 Q448,259.8 451.2,262.6 Q453.2,265.5 453.8,272"/>
<path d="M444.4,260.3 Q450,258.4 453,261 Q455,264 455.6,270"/>
<path d="M448.6,258.2 Q454,257 457,259.8 Q458.8,262.5 459.2,267.5"/>
<path d="M433.6,290.5 Q434.2,294 433.6,297.5 M439,285.5 Q439.7,291 439,296 M443.8,281.5 Q444.5,288 443.8,294 M449.2,277 Q449.9,284 449.2,291 M454,272.5 Q454.7,280 454,288 M458.2,268.5 Q458.9,277 458.2,285 M460.6,266.2 L460.6,282"/>
</g>
<!-- rear outlet -->
<path class="p" d="M456.3,258.6 C458.5,255.5 461,254 464,253 C468,252 472,251.8 475.8,252.7 C479,253.5 481,254.5 483.3,255.7 L495.4,260.7 L489.2,264.4 Q486,265.5 483.3,265.25 L478.3,264 Q477,262 475.8,261.9 L466.7,262.3 Q464,262.8 462.5,263.6"/>
<path class="p" d="M477.5,253.4 L477.5,264.2" style="stroke-width:1"/>
<ellipse cx="474.8" cy="256.2" rx="1.7" ry="1.2" fill="#222" transform="rotate(-30 474.8 256.2)"/>
</g>
</svg>
</body></html>
